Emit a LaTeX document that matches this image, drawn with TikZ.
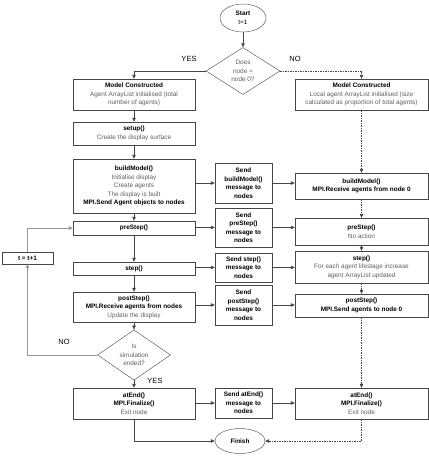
\documentclass[tikz,border=0pt]{standalone}
\usepackage{fontspec}
\setmainfont{Liberation Sans}
\usepackage{xcolor}
\usetikzlibrary{shapes.geometric, arrows.meta, positioning, calc}
\definecolor{linegrey}{RGB}{70,70,70}
\definecolor{loopgrey}{RGB}{150,150,150}
\definecolor{textgrey}{RGB}{95,95,95}
\newcommand{\hd}[1]{\textbf{\textcolor{black}{#1}}}

\begin{document}
\begin{tikzpicture}[x=1pt, y=-1pt,
  block/.style={rectangle, draw=linegrey, fill=white, align=center,
                inner sep=1pt, text=textgrey,
                font=\fontsize{6.4}{8.5}\selectfont},
  sendbox/.style={block, minimum width=57pt, text=black},
  leftbox/.style={block, minimum width=122pt},
  rightbox/.style={block, minimum width=133pt},
  decision/.style={diamond, draw=linegrey, fill=white, align=center,
                inner sep=0pt, text=textgrey,
                font=\fontsize{6.4}{8.5}\selectfont},
  terminal/.style={ellipse, draw=linegrey, fill=white, align=center,
                inner sep=0pt, font=\fontsize{6.4}{8.5}\selectfont},
  arr/.style={-{Triangle[length=4pt,width=3.5pt]}, linegrey, line width=0.5pt},
  darr/.style={arr, dashed, dash pattern=on 1.5pt off 1pt},
  loop/.style={arr, loopgrey, line width=0.7pt},
  yesno/.style={font=\fontsize{7.5}{8}\selectfont},
]
\useasboundingbox (0,0) rectangle (429,456);

% start and first decision
\node[terminal, minimum width=46pt, minimum height=28pt] (start) at (243,18)
    {\hd{Start}\\t=1};
\node[decision, minimum width=74pt, minimum height=47pt] (isroot) at (243,71)
    {Does\\node =\\node 0?};

% root node column
\node[leftbox, minimum height=31pt] (constrL) at (134,94.5)
    {\hd{Model Constructed}\\Agent ArrayList initialised (total\\number of agents)};
\node[leftbox, minimum height=23pt] (setup) at (134,133.5)
    {\hd{setup()}\\Create the display surface};
\node[leftbox, minimum height=54pt] (buildL) at (134,186)
    {\hd{buildModel()}\\Initialise display\\Create agents\\The display is built\\
     \hd{MPI.Send Agent objects to nodes}};
\node[leftbox, minimum height=14pt] (preL) at (134,228) {\hd{preStep()}};
\node[leftbox, minimum height=13pt] (stepL) at (134,268.5) {\hd{step()}};
\node[leftbox, minimum height=30pt] (postL) at (134,307)
    {\hd{postStep()}\\\hd{MPI.Receive agents from nodes}\\Update the display};
\node[decision, minimum width=73pt, minimum height=37pt] (isdone) at (134,355)
    {Is\\simulation\\ended?};
\node[leftbox, minimum height=31pt] (endL) at (134,403.5)
    {\hd{atEnd()}\\\hd{MPI.Finalize()}\\Exit node};
\node[block, minimum width=51pt, minimum height=12pt] (tinc) at (27.5,258)
    {\hd{t = t+1}};

% messages
\node[sendbox, minimum height=40pt] (sendBuild) at (243.5,183)
    {\hd{Send}\\\hd{buildModel()}\\\hd{message to}\\\hd{nodes}};
\node[sendbox, minimum height=39pt] (sendPre) at (243.5,227.5)
    {\hd{Send}\\\hd{preStep()}\\\hd{message to}\\\hd{nodes}};
\node[sendbox, minimum height=29pt] (sendStep) at (243.5,267.5)
    {\hd{Send step()}\\\hd{message to}\\\hd{nodes}};
\node[sendbox, minimum height=40pt] (sendPost) at (243.5,305)
    {\hd{Send}\\\hd{postStep()}\\\hd{message to}\\\hd{nodes}};
\node[sendbox, minimum height=30pt] (sendEnd) at (243.5,403)
    {\hd{Send atEnd()}\\\hd{message to}\\\hd{nodes}};

% other nodes column
\node[rightbox, minimum height=31pt] (constrR) at (361.5,94.5)
    {\hd{Model Constructed}\\Local agent ArrayList initialised (size\\
     calculated as proportion of total agents)};
\node[rightbox, minimum height=26pt] (buildR) at (361.5,186)
    {\hd{buildModel()}\\\hd{MPI.Receive agents from node 0}};
\node[rightbox, minimum height=27pt] (preR) at (361.5,231.5)
    {\hd{preStep()}\\No action};
\node[rightbox, minimum height=32pt] (stepR) at (361.5,267)
    {\hd{step()}\\For each agent lifestage increase\\agent ArrayList updated};
\node[rightbox, minimum height=23pt] (postR) at (361.5,305.5)
    {\hd{postStep()}\\\hd{MPI.Send agents to node 0}};
\node[rightbox, minimum height=31pt] (endR) at (361.5,403.5)
    {\hd{atEnd()}\\\hd{MPI.Finalize()}\\Exit node};

\node[terminal, minimum width=50pt, minimum height=25pt] (finish) at (240,441)
    {\hd{Finish}};

% branch at start
\draw[arr] (start) -- (isroot);
\draw[arr] (isroot.west) -| (constrL.north);
\draw[darr] (isroot.east) -| (constrR.north);
\node[yesno] (yes1) at (189,59) {YES};
\node[yesno] (no1) at (295,59) {NO};

% root column
\draw[arr] (constrL) -- (setup);
\draw[arr] (setup) -- (buildL);
\draw[arr] (buildL) -- (preL);
\draw[arr] (preL) -- (stepL);
\draw[arr] (stepL) -- (postL);
\draw[arr] (postL) -- (isdone);
\draw[arr] (isdone) -- (endL);
\node[yesno] (yes2) at (155,381) {YES};
\node[yesno] (no2) at (64,342) {NO};

% time loop
\draw[loop] (isdone.west) -| (tinc.south);
\draw[loop] (tinc.north) |- (preL.west);

% messages to nodes
\foreach \src/\msg/\dst in {buildL/sendBuild/buildR, preL/sendPre/preR,
    stepL/sendStep/stepR, postL/sendPost/postR, endL/sendEnd/endR} {
  \draw[arr] (\msg.west -| \src.east) -- (\msg.west);
  \draw[arr] (\msg.east) -- (\msg.east -| \dst.west);
}

% other nodes column
\draw[darr] (constrR) -- (buildR);
\draw[darr] (buildR) -- (preR);
\draw[darr] (preR) -- (stepR);
\draw[darr] (stepR) -- (postR);
\draw[darr] (postR) -- (endR);

% finish
\draw[arr] (endL.south) |- (finish.west);
\draw[darr] (endR.south) |- (finish.east);

\end{tikzpicture}
\end{document}
